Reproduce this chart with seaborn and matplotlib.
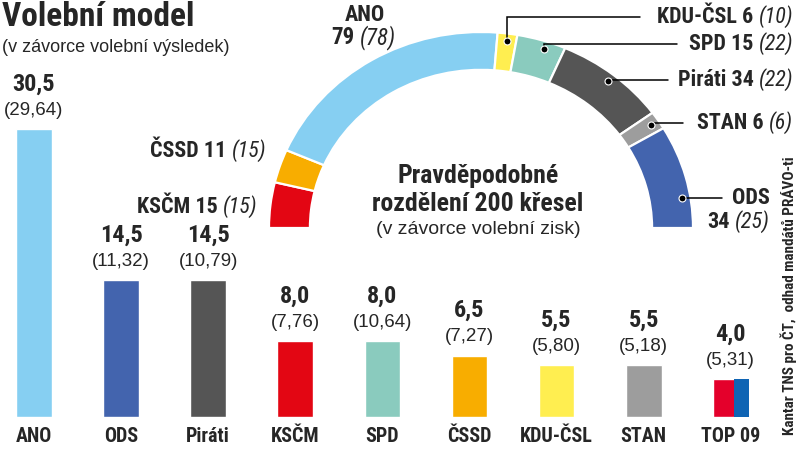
import matplotlib
matplotlib.use("Agg")
import matplotlib.pyplot as plt
from matplotlib import font_manager
from matplotlib.patches import Wedge, Rectangle
import seaborn as sns
import pandas as pd
import numpy as np

# poll model in %, in brackets the 2017 election result
parties = ["ANO", "ODS", "Piráti", "KSČM", "SPD", "ČSSD", "KDU-ČSL", "STAN", "TOP 09"]
model = [30.5, 14.5, 14.5, 8.0, 8.0, 6.5, 5.5, 5.5, 4.0]
result = [29.64, 11.32, 10.79, 7.76, 10.64, 7.27, 5.80, 5.18, 5.31]

# seat estimate (200 seats), left to right along the arc, in brackets 2017 seats
seat_parties = ["KSČM", "ČSSD", "ANO", "KDU-ČSL", "SPD", "Piráti", "STAN", "ODS"]
seats = [15, 11, 79, 6, 15, 34, 6, 34]
seats_2017 = [15, 15, 78, 10, 22, 22, 6, 25]

colors = {
    "ANO": "#86cff2", "ODS": "#4364ae", "Piráti": "#555555", "KSČM": "#e30613",
    "SPD": "#8acbbe", "ČSSD": "#f8ad00", "KDU-ČSL": "#ffee50", "STAN": "#9d9d9d",
    "TOP 09": "#e4002b",
}
top09_blue = "#0f64b4"

# pick a narrow-ish sans that is really installed
installed = {f.name for f in font_manager.fontManager.ttflist}
prefs = ["Liberation Sans Narrow", "Roboto Condensed", "Liberation Sans", "Roboto"]
NARROW = [f for f in prefs if f in installed][:1] + ["DejaVu Sans"]
REG = [f for f in ["Liberation Sans", "Roboto"] if f in installed][:1] + ["DejaVu Sans"]

sns.set_theme(style="white")
plt.rcParams["font.family"] = NARROW

fig = plt.figure(figsize=(8, 4.5), dpi=100)
fig.patch.set_facecolor("white")

# ---- bar chart ----
ax = fig.add_axes([0, 33 / 450, 1, 417 / 450])
ax.patch.set_alpha(0)
df = pd.DataFrame({"party": parties, "model": model})
sns.barplot(data=df, x="party", y="model", hue="party", palette=colors,
            saturation=1, width=0.41, legend=False, ax=ax)
ax.set_xlim(-0.39, 8.795)
ax.set_ylim(0, 417 / 9.44)
ax.axis("off")

# TOP 09 bar is half red, half blue
for p in ax.patches:
    if abs(p.get_x() + p.get_width() / 2 - parties.index("TOP 09")) < 0.1:
        w = p.get_width() * 0.4
        ax.add_patch(Rectangle((p.get_x() + p.get_width() - w, 0), w, p.get_height(),
                               color=top09_blue, lw=0))

for i, (name, v, r) in enumerate(zip(parties, model, result)):
    ax.annotate(f"{v:.1f}".replace(".", ","), (i, v), xytext=(0, 45),
                textcoords="offset pixels", ha="center", va="center",
                fontsize=17.5, fontweight="bold")
    ax.annotate(f"({r:.2f})".replace(".", ","), (i, v), xytext=(0, 19),
                textcoords="offset pixels", ha="center", va="center",
                fontsize=13.5, family=REG)
    ax.annotate(name, (i, 0), xytext=(0, -20), textcoords="offset pixels",
                ha="center", va="center", fontsize=14.5, fontweight="bold")

# ---- seat arc ----
dn = fig.add_axes([269 / 800, (450 - 228) / 450, 424 / 800, 196 / 450])
dn.set_xlim(-1, 1)
dn.set_ylim(0, 1)
dn.axis("off")
ring = 0.193
deg_per_seat = 180 / sum(seats)
start = 180.0
mids = {}
for name, s in zip(seat_parties, seats):
    end = start - s * deg_per_seat
    dn.add_patch(Wedge((0, 0), 1, end, start, width=ring, fc=colors[name],
                       ec="white", lw=1.6, clip_on=False))
    mids[name] = (start, end)
    start = end

# overlay in pixel coordinates for texts and leaders
ov = fig.add_axes([0, 0, 1, 1])
ov.set_xlim(0, 800)
ov.set_ylim(450, 0)
ov.axis("off")
ov.patch.set_alpha(0)

renderer = fig.canvas.get_renderer()


def dot_pos(name, frac=0.5, r=0.96):
    a, b = mids[name]
    t = np.radians(a + (b - a) * frac)
    disp = dn.transData.transform((r * np.cos(t), r * np.sin(t)))
    return ov.transData.inverted().transform(disp)


def mixed(x_right, y, bold, ital, size=15.8):
    t = ov.text(x_right, y, ital, ha="right", va="center", fontsize=size,
                style="italic")
    bb = t.get_window_extent(renderer)
    ov.text(bb.x0 - 5, y, bold, ha="right", va="center", fontsize=size,
            fontweight="bold")


def seat_txt(name):
    i = seat_parties.index(name)
    return f"{name} {seats[i]}", f"({seats_2017[i]})"


# leaders on the right side: (party, label y, line end x, dot fraction)
right_labels = [("KDU-ČSL", 17, 640, 0.5), ("SPD", 44, 677, 0.6),
                ("Piráti", 80, 668, 0.5), ("STAN", 123, 683, 0.5)]
for name, ly, lx, fr in right_labels:
    x, y = dot_pos(name, fr)
    ov.plot([x, x, lx], [y, ly, ly], color="black", lw=1.1, solid_joinstyle="miter")
    ov.plot(x, y, "o", ms=5, mfc="black", mec="white", mew=0.8)
    b, it = seat_txt(name)
    mixed(793, ly, b, it)

# ODS label on two lines
x, y = dot_pos("ODS", 0.7)
ov.plot([x, 722], [y, y], color="black", lw=1.1)
ov.plot(x, y, "o", ms=5, mfc="black", mec="white", mew=0.8)
ov.text(770, y, "ODS", ha="right", va="center", fontsize=16, fontweight="bold")
i = seat_parties.index("ODS")
mixed(770, y + 24, f"{seats[i]}", f"({seats_2017[i]})", size=16)

# left labels
b, it = seat_txt("ČSSD")
mixed(266, 151, b, it)
b, it = seat_txt("KSČM")
mixed(257, 207, b, it)

# ANO
i = seat_parties.index("ANO")
ov.text(365, 15, "ANO", ha="center", va="center", fontsize=16, fontweight="bold")
mixed(396, 38, f"{seats[i]}", f"({seats_2017[i]})", size=16.5)

# centre of the arc
ov.text(478, 176, "Pravděpodobné", ha="center", va="center", fontsize=18.5,
        fontweight="bold")
ov.text(478, 204, "rozdělení 200 křesel", ha="center", va="center", fontsize=18.5,
        fontweight="bold")
ov.text(478, 229, "(v závorce volební zisk)", ha="center", va="center",
        fontsize=14, family=REG)

# title
ov.text(2, 17, "Volební model", ha="left", va="center", fontsize=24,
        fontweight="bold")
ov.text(2, 47, "(v závorce volební výsledek)", ha="left", va="center",
        fontsize=13, family=REG)

# source
ov.text(789, 296, "Kantar TNS pro ČT,  odhad mandátů PRÁVO-ti", rotation=90,
        ha="center", va="center", fontsize=11, fontweight="bold")

fig.savefig("out.png", dpi=100)
